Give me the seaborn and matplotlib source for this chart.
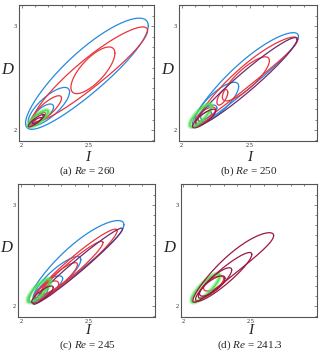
import numpy as np
import pandas as pd
import seaborn as sns
import matplotlib.pyplot as plt
from matplotlib.ticker import MultipleLocator

# each loop: (I_min, I_max, D_min, D_max, phase lag, upward bend)
a_blue = [(2.03, 2.95, 2.00, 3.07, 0.50, 0.03), (2.05, 2.36, 2.04, 2.41, 0.70, 0.0),
          (2.08, 2.24, 2.07, 2.25, 0.80, 0.0), (2.06, 2.16, 2.04, 2.16, 0.90, 0.0)]
a_red = [(2.09, 2.945, 2.08, 2.99, 0.38, 0.02), (2.37, 2.70, 2.35, 2.80, 0.75, 0.0),
         (2.07, 2.30, 2.06, 2.33, 0.60, 0.0), (2.06, 2.18, 2.05, 2.17, 0.70, 0.0)]
a_purple = []
a_green = [(2.05, 2.20, 2.03, 2.19, 0.60, 0.0)]
a_maroon = [(2.05, 2.17, 2.03, 2.15, 0.50, 0.0), (2.08, 2.15, 2.06, 2.12, 0.60, 0.0)]

b_blue = [(2.08, 2.86, 2.03, 2.93, 0.36, 0.05), (2.10, 2.42, 2.06, 2.46, 0.65, 0.0),
          (2.12, 2.26, 2.08, 2.24, 0.90, 0.0), (2.14, 2.22, 2.10, 2.18, 1.00, 0.0)]
b_red = [(2.12, 2.855, 2.08, 2.89, 0.30, 0.05), (2.30, 2.646, 2.28, 2.705, 0.60, 0.0),
         (2.26, 2.34, 2.24, 2.39, 0.90, 0.0), (2.10, 2.25, 2.06, 2.22, 0.80, 0.0)]
b_purple = [(2.10, 2.85, 2.04, 2.89, 0.28, 0.0)]
b_green = [(2.06, 2.22, 2.03, 2.25, 0.60, 0.0)]
b_maroon = [(2.08, 2.25, 2.02, 2.20, 0.60, 0.0)]

c_blue = [(2.06, 2.765, 2.03, 2.835, 0.40, 0.05), (2.10, 2.445, 2.08, 2.49, 0.55, 0.0),
          (2.13, 2.31, 2.12, 2.30, 0.80, 0.0), (2.09, 2.20, 2.06, 2.20, 0.90, 0.0)]
c_red = [(2.10, 2.715, 2.06, 2.76, 0.30, 0.0), (2.14, 2.61, 2.10, 2.64, 0.30, 0.0),
         (2.15, 2.42, 2.12, 2.43, 0.50, 0.0), (2.10, 2.28, 2.06, 2.25, 0.80, 0.0)]
c_purple = [(2.09, 2.755, 2.02, 2.77, 0.20, 0.0)]
c_green = [(2.05, 2.22, 2.04, 2.27, 0.60, 0.0)]
c_maroon = [(2.08, 2.24, 2.03, 2.20, 0.60, 0.0)]

d_blue = []
d_red = [(2.15, 2.30, 2.15, 2.30, 0.90, 0.0)]
d_purple = []
d_green = [(2.06, 2.27, 2.04, 2.32, 0.55, 0.0)]
d_maroon = [(2.07, 2.673, 2.035, 2.717, 0.35, 0.05), (2.09, 2.51, 2.05, 2.53, 0.40, 0.0),
            (2.11, 2.36, 2.08, 2.38, 0.55, 0.0), (2.12, 2.31, 2.10, 2.30, 0.70, 0.0)]

captions = ['(a) $Re$ = 260', '(b) $Re$ = 250', '(c) $Re$ = 245', '(d) $Re$ = 241.3']
panels = [(a_blue, a_red, a_purple, a_green, a_maroon),
          (b_blue, b_red, b_purple, b_green, b_maroon),
          (c_blue, c_red, c_purple, c_green, c_maroon),
          (d_blue, d_red, d_purple, d_green, d_maroon)]

colors = ['#2389e0', '#e8353c', '#6c2a6e', '#4fe04f', '#9c1840']


def loop_frame(loop):
    i_lo, i_hi, d_lo, d_hi, phase, bend = loop
    t = np.linspace(0, 2 * np.pi, 200)
    ci, ai = (i_lo + i_hi) / 2, (i_hi - i_lo) / 2
    cd, ad = (d_lo + d_hi) / 2, (d_hi - d_lo) / 2
    return pd.DataFrame({'I': ci + ai * np.cos(t),
                         'D': cd + ad * np.cos(t - phase) + bend * np.sin(t) ** 2})


sns.set_style("white")
plt.rcParams['font.family'] = ['Liberation Serif', 'DejaVu Serif']
plt.rcParams['mathtext.fontset'] = 'custom'
plt.rcParams['mathtext.rm'] = 'Liberation Serif'
plt.rcParams['mathtext.it'] = 'Liberation Serif:italic'

fig = plt.figure(figsize=(3.2, 3.53), dpi=100)
boxes = [[0.059, 0.601, 0.423, 0.385], [0.559, 0.601, 0.431, 0.385],
         [0.057, 0.102, 0.427, 0.377], [0.565, 0.102, 0.425, 0.377]]
label_y = [-0.125, -0.125, -0.098, -0.098]
caption_y = [-0.272, -0.272, -0.263, -0.263]

for box, caption, lab_y, cap_y, series in zip(boxes, captions, label_y, caption_y, panels):
    ax = fig.add_axes(box)
    for k, (loops, col) in enumerate(zip(series, colors)):
        for loop in loops:
            df = loop_frame(loop)
            if k == 3:  # green orbit looks smeared
                sns.lineplot(data=df, x='I', y='D', sort=False, estimator=None, ax=ax,
                             color=col, lw=3.2, alpha=0.45)
                sns.lineplot(data=df, x='I', y='D', sort=False, estimator=None, ax=ax,
                             color=col, lw=1.2, alpha=0.9)
            else:
                sns.lineplot(data=df, x='I', y='D', sort=False, estimator=None, ax=ax,
                             color=col, lw=0.9)
    ax.set_xlim(1.98, 2.995)
    ax.set_ylim(1.895, 3.205)
    ax.set_xticks([2, 2.5])
    ax.set_xticklabels(['2', '2.5'])
    ax.set_yticks([2, 3])
    ax.set_yticklabels(['2', '3'])
    ax.xaxis.set_minor_locator(MultipleLocator(0.1))
    ax.yaxis.set_minor_locator(MultipleLocator(0.1))
    ax.tick_params(which='both', direction='in', top=True, right=True, width=0.5,
                   color='#555555', labelsize=4.5, pad=1.5)
    ax.tick_params(which='major', length=2.5)
    ax.tick_params(which='minor', length=1.5)
    for sp in ax.spines.values():
        sp.set_linewidth(0.8)
        sp.set_color('#555555')
    ax.set_xlabel('')
    ax.set_ylabel('')
    ax.text(-0.085, 0.52, 'D', transform=ax.transAxes, fontsize=12, style='italic',
            ha='center', va='center')
    ax.text(0.51, lab_y, 'I', transform=ax.transAxes, fontsize=11, style='italic',
            ha='center', va='center')
    ax.text(0.51, cap_y, caption, transform=ax.transAxes, fontsize=8,
            ha='center', va='bottom')

fig.savefig('out.png', dpi=100)
